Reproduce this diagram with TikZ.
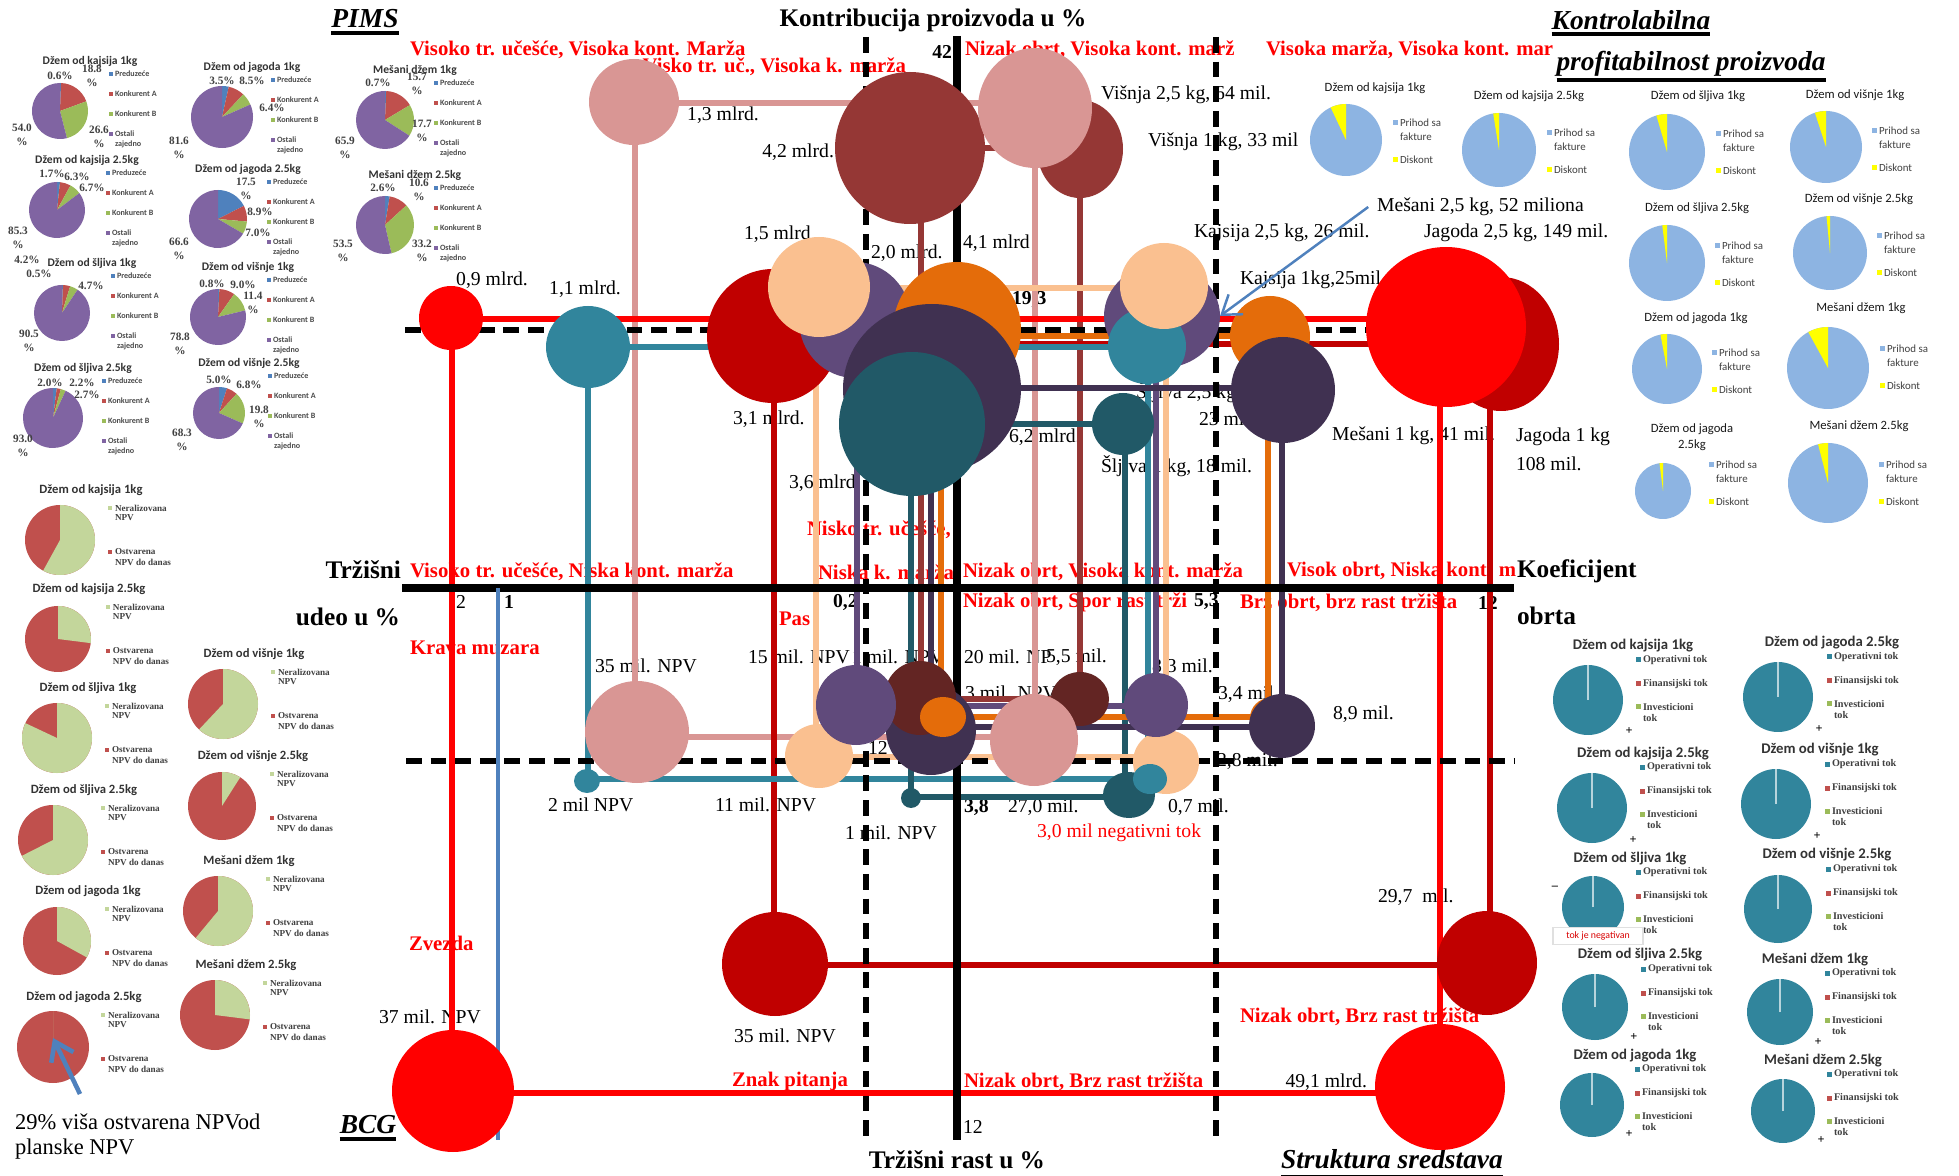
\documentclass[tikz,border=0pt]{standalone}
\usepackage{fontspec}
\setmainfont{Liberation Serif}
\newfontfamily\calfont{Carlito}
\usetikzlibrary{arrows.meta,calc}

% bubble colours
\definecolor{cRed}{HTML}{FF0000}
\definecolor{cDRed}{HTML}{C00000}
\definecolor{cPink}{HTML}{D99694}
\definecolor{cBrown}{HTML}{953735}
\definecolor{cDBrown}{HTML}{632523}
\definecolor{cOrange}{HTML}{E46C0A}
\definecolor{cPeach}{HTML}{FAC090}
\definecolor{cPurple}{HTML}{604A7B}
\definecolor{cDPurple}{HTML}{403151}
\definecolor{cTeal}{HTML}{31859C}
\definecolor{cDTeal}{HTML}{215967}
\definecolor{cBlue}{HTML}{4F81BD}
% small chart colours
\definecolor{pBlue}{HTML}{4F81BD}
\definecolor{pRed}{HTML}{C0504D}
\definecolor{pGreen}{HTML}{9BBB59}
\definecolor{pPurple}{HTML}{8064A2}
\definecolor{nGreen}{HTML}{C3D69B}
\definecolor{kBlue}{HTML}{8DB4E2}
\definecolor{kYellow}{HTML}{FFFF00}

% market share pie: cx, cy, r, title, firm, competitor A, competitor B, others
\newcommand\pimspie[8]{%
  \pgfmathsetmacro\pa{-90+3.6*#5}%
  \pgfmathsetmacro\pb{\pa+3.6*#6}%
  \pgfmathsetmacro\pc{\pb+3.6*#7}%
  \fill[pBlue]   (#1,#2) -- ++(-90:#3) arc[start angle=-90, end angle=\pa, radius=#3] -- cycle;
  \fill[pRed]    (#1,#2) -- ++(\pa:#3) arc[start angle=\pa, end angle=\pb, radius=#3] -- cycle;
  \fill[pGreen]  (#1,#2) -- ++(\pb:#3) arc[start angle=\pb, end angle=\pc, radius=#3] -- cycle;
  \fill[pPurple] (#1,#2) -- ++(\pc:#3) arc[start angle=\pc, end angle=270, radius=#3] -- cycle;
  \node[ptitle] at (#1+30,#2-50) {#4};
  \fill[pBlue]   (#1+49,#2-39) rectangle (#1+53,#2-35);
  \fill[pRed]    (#1+49,#2-19) rectangle (#1+53,#2-15);
  \fill[pGreen]  (#1+49,#2+1)  rectangle (#1+53,#2+5);
  \fill[pPurple] (#1+49,#2+21) rectangle (#1+53,#2+25);
  \node[pleg] at (#1+55,#2-37) {Preduzeće};
  \node[pleg] at (#1+55,#2-17) {Konkurent A};
  \node[pleg] at (#1+55,#2+3)  {Konkurent B};
  \node[pleg] at (#1+55,#2+23) {Ostali};
  \node[pleg] at (#1+55,#2+33) {zajedno};
}
% NPV pie: cx, cy, r, title, share not yet realised
\newcommand\npvpie[5]{%
  \pgfmathsetmacro\pg{-90+360*#5}%
  \fill[pRed] (#1,#2) circle[radius=#3];
  \fill[nGreen] (#1,#2) -- ++(-90:#3) arc[start angle=-90, end angle=\pg, radius=#3] -- cycle;
  \node[ntitle] at (#1+31,#2-50) {#4};
  \fill[nGreen] (#1+48,#2-34) rectangle (#1+52,#2-30);
  \node[nleg] at (#1+55,#2-32) {Neralizovana};
  \node[nleg] at (#1+55,#2-22) {NPV};
  \fill[pRed] (#1+48,#2+10) rectangle (#1+52,#2+14);
  \node[nleg] at (#1+55,#2+12) {Ostvarena};
  \node[nleg] at (#1+55,#2+22) {NPV do danas};
}
% invoice / discount pie: cx, cy, r, title x, title y, title, discount share, legend x, legend y
\newcommand\kpie[9]{%
  \pgfmathsetmacro\py{-90-360*#7}%
  \fill[kBlue] (#1,#2) circle[radius=#3];
  \fill[kYellow] (#1,#2) -- ++(-90:#3) arc[start angle=-90, end angle=\py, radius=#3] -- cycle;
  \node[ktitle, align=center] at (#4,#5) {#6};
  \fill[kBlue] (#8-2.5,#9-2.5) rectangle (#8+2.5,#9+2.5);
  \node[kleg] at (#8+5,#9) {Prihod sa};
  \node[kleg] at (#8+5,#9+14) {fakture};
  \fill[kYellow] (#8-2.5,#9+34.5) rectangle (#8+2.5,#9+39.5);
  \node[kleg] at (#8+5,#9+37) {Diskont};
}
% cash flow pie: cx, cy, r, title x, title y, title, legend x, legend y
\newcommand\cpie[8]{%
  \fill[cTeal] (#1,#2) circle[radius=#3];
  \draw[white!65!cTeal, line width=0.3pt] (#1,#2) -- (#1,#2-#3);
  \node[ctitle] at (#4,#5) {#6};
  \fill[cTeal] (#7-2.5,#8-2.5) rectangle (#7+2.5,#8+2.5);
  \node[cleg] at (#7+5,#8) {Operativni tok};
  \fill[pRed] (#7-2.5,#8+21.5) rectangle (#7+2.5,#8+26.5);
  \node[cleg] at (#7+5,#8+24) {Finansijski tok};
  \fill[pGreen] (#7-2.5,#8+44.5) rectangle (#7+2.5,#8+49.5);
  \node[cleg] at (#7+5,#8+47) {Investicioni};
  \node[cleg] at (#7+5,#8+58) {tok};
}
% bubble: colour, cx, cy, x radius, y radius
\newcommand\bub[5]{\fill[#1] (#2,#3) ellipse[x radius=#4, y radius=#5];}

\begin{document}
\begin{tikzpicture}[x=0.01cm, y=-0.01cm,
  every node/.style={inner sep=0pt, outer sep=0pt},
  lbl/.style={font=\fontsize{5.6}{6.6}\selectfont},
  qlbl/.style={text=red, font=\bfseries\fontsize{5.9}{7}\selectfont, anchor=west},
  bttl/.style={font=\bfseries\fontsize{7.2}{8.5}\selectfont},
  ittl/.style={font=\bfseries\itshape\fontsize{7.8}{9}\selectfont},
  uline/.style={line width=1.1pt},
  ptitle/.style={font=\calfont\bfseries\fontsize{3.3}{4}\selectfont, text=black!80},
  pleg/.style={font=\calfont\bfseries\fontsize{2.3}{2.8}\selectfont, anchor=west, text=black!70},
  pct/.style={font=\bfseries\fontsize{3.2}{3.9}\selectfont, align=center, text=black!75},
  ntitle/.style={font=\calfont\bfseries\fontsize{3.6}{4.3}\selectfont, text=black!80},
  nleg/.style={font=\bfseries\fontsize{2.6}{3}\selectfont, anchor=west, text=black!75},
  ktitle/.style={font=\calfont\fontsize{3.6}{4.4}\selectfont, text=black!90},
  kleg/.style={font=\calfont\fontsize{3.1}{3.7}\selectfont, anchor=west, text=black!75},
  ctitle/.style={font=\calfont\bfseries\fontsize{4.2}{5}\selectfont, text=black!80},
  cleg/.style={font=\bfseries\fontsize{2.9}{3.4}\selectfont, anchor=west, text=black!75},
  conn/.style={line width=1.45pt},
  axisln/.style={line width=2.4pt},
  dashln/.style={line width=1.5pt, dash pattern=on 4.5pt off 2.5pt},
  barrow/.style={draw=cBlue, line width=0.7pt, -{Straight Barb[length=5pt,width=7pt]}}
]
\fill[white] (0,0) rectangle (1959,1176);
\useasboundingbox (0,0) rectangle (1959,1176);

% ---------------- PIMS market share pies ----------------
\pimspie{60}{111}{28}{Džem od kajsija 1kg}{0.6}{18.8}{26.6}{54.0}
\pimspie{222}{117}{31}{Džem od jagoda 1kg}{3.5}{8.5}{6.4}{81.6}
\pimspie{57}{210}{28}{Džem od kajsija 2.5kg}{1.7}{6.3}{6.7}{85.3}
\pimspie{218}{219}{29}{Džem od jagoda 2.5kg}{17.5}{8.9}{7.0}{66.6}
\pimspie{62}{313}{28}{Džem od šljiva 1kg}{0.5}{4.2}{4.7}{90.5}
\pimspie{218}{317}{28}{Džem od višnje 1kg}{0.8}{9.0}{11.4}{78.8}
\pimspie{53}{418}{30}{Džem od šljiva 2.5kg}{2.0}{2.2}{2.7}{93.0}
\pimspie{219}{413}{26}{Džem od višnje 2.5kg}{5.0}{6.8}{19.8}{68.3}
\pimspie{385}{120}{29}{Mešani džem 1kg}{0.7}{15.7}{17.7}{65.9}
\pimspie{385}{225}{29}{Mešani džem 2.5kg}{2.6}{10.6}{33.2}{53.5}

\node[pct] at (60,76) {0.6\%};   \node[pct] at (92,76) {18.8\\\%};
\node[pct] at (99,137) {26.6\\\%}; \node[pct] at (22,135) {54.0\\\%};
\node[pct] at (222,81) {3.5\%};  \node[pct] at (252,81) {8.5\%};
\node[pct] at (272,108) {6.4\%}; \node[pct] at (179,148) {81.6\\\%};
\node[pct] at (52,174) {1.7\%};  \node[pct] at (77,177) {6.3\%};
\node[pct] at (92,188) {6.7\%};  \node[pct] at (18,238) {85.3\\\%};
\node[pct] at (246,189) {17.5\\\%}; \node[pct] at (260,212) {8.9\%};
\node[pct] at (258,233) {7.0\%}; \node[pct] at (179,249) {66.6\\\%};
\node[pct] at (27,260) {4.2\%};  \node[pct] at (39,274) {0.5\%};
\node[pct] at (91,286) {4.7\%};  \node[pct] at (29,341) {90.5\\\%};
\node[pct] at (212,284) {0.8\%}; \node[pct] at (243,285) {9.0\%};
\node[pct] at (253,303) {11.4\\\%}; \node[pct] at (180,344) {78.8\\\%};
\node[pct] at (50,383) {2.0\%};  \node[pct] at (82,383) {2.2\%};
\node[pct] at (87,395) {2.7\%};  \node[pct] at (23,446) {93.0\\\%};
\node[pct] at (219,380) {5.0\%}; \node[pct] at (249,385) {6.8\%};
\node[pct] at (259,417) {19.8\\\%}; \node[pct] at (182,440) {68.3\\\%};
\node[pct] at (378,83) {0.7\%};  \node[pct] at (417,84) {15.7\\\%};
\node[pct] at (422,131) {17.7\\\%}; \node[pct] at (345,148) {65.9\\\%};
\node[pct] at (383,188) {2.6\%}; \node[pct] at (419,190) {10.6\\\%};
\node[pct] at (422,251) {33.2\\\%}; \node[pct] at (343,251) {53.5\\\%};

% ---------------- NPV pies ----------------
\npvpie{60}{540}{35}{Džem od kajsija 1kg}{0.58}
\npvpie{58}{639}{33}{Džem od kajsija 2.5kg}{0.27}
\npvpie{57}{738}{35}{Džem od šljiva 1kg}{0.82}
\npvpie{53}{840}{35}{Džem od šljiva 2.5kg}{0.675}
\npvpie{57}{941}{34}{Džem od jagoda 1kg}{0.33}
\npvpie{53}{1047}{36}{Džem od jagoda 2.5kg}{0.0005}
\npvpie{223}{704}{35}{Džem od višnje 1kg}{0.62}
\npvpie{222}{806}{34}{Džem od višnje 2.5kg}{0.09}
\npvpie{218}{911}{35}{Mešani džem 1kg}{0.61}
\npvpie{215}{1015}{35}{Mešani džem 2.5kg}{0.27}
\node[font=\fontsize{6.4}{8}\selectfont, anchor=west] (npvnote) at (15,1122) {29\% viša ostvarena NPVod};
\node[font=\fontsize{6.4}{8}\selectfont, anchor=west] (npvnote2) at (15,1149) {planske NPV};
\coordinate (npvTail) at (80,1094);
\coordinate (npvTip) at (53,1038);
\draw[barrow, line width=1.3pt] (npvTail) -- (npvTip);

% ---------------- invoice / discount pies ----------------
\kpie{1346}{140}{36}{1375}{88}{Džem od kajsija 1kg}{0.07}{1395}{123}
\kpie{1499}{150}{37}{1529}{96}{Džem od kajsija 2.5kg}{0.025}{1549}{133}
\kpie{1667}{152}{38}{1698}{96}{Džem od šljiva 1kg}{0.045}{1718}{134}
\kpie{1826}{147}{36}{1855}{95}{Džem od višnje 1kg}{0.05}{1874}{131}
\kpie{1667}{263}{38}{1697}{208}{Džem od šljiva 2.5kg}{0.02}{1717}{246}
\kpie{1830}{253}{37}{1859}{199}{Džem od višnje 2.5kg}{0.015}{1879}{236}
\kpie{1667}{369}{35}{1696}{318}{Džem od jagoda 1kg}{0.03}{1714}{353}
\kpie{1828}{368}{41}{1861}{308}{Mešani džem 1kg}{0.08}{1882}{349}
\kpie{1663}{491}{28}{1692}{437}{Džem od jagoda\\2.5kg}{0.02}{1711}{465}
\kpie{1828}{483}{40}{1859}{426}{Mešani džem 2.5kg}{0.04}{1881}{465}

% ---------------- cash flow pies ----------------
\cpie{1588}{700}{35}{1633}{646}{Džem od kajsija 1kg}{1638}{660}
\cpie{1778}{697}{35}{1832}{643}{Džem od jagoda 2.5kg}{1829}{657}
\cpie{1592}{808}{35}{1643}{754}{Džem od kajsija 2.5kg}{1642}{767}
\cpie{1776}{804}{35}{1820}{750}{Džem od višnje 1kg}{1827}{764}
\cpie{1593}{907}{31}{1630}{859}{Džem od šljiva 1kg}{1638}{872}
\cpie{1778}{909}{34}{1827}{855}{Džem od višnje 2.5kg}{1828}{869}
\cpie{1595}{1007}{33}{1640}{955}{Džem od šljiva 2.5kg}{1643}{969}
\cpie{1780}{1012}{33}{1815}{960}{Mešani džem 1kg}{1827}{973}
\cpie{1592}{1105}{32}{1635}{1056}{Džem od jagoda 1kg}{1637}{1069}
\cpie{1783}{1111}{32}{1823}{1061}{Mešani džem 2.5kg}{1829}{1074}
\foreach \px/\py in {1629/731,1819/729,1633/840,1817/836,1634/1037,1818/1042,1629/1134,1821/1140}
  \node[font=\bfseries\fontsize{3.5}{4}\selectfont] at (\px,\py) {+};
\node[font=\bfseries\fontsize{3.5}{4}\selectfont] at (1555,888) {–};
\node[draw=black!12, fill=white, minimum width=90*0.2845pt, minimum height=17*0.2845pt,
      text=red!85!black, font=\calfont\fontsize{2.8}{3.3}\selectfont] (negbox) at (1598,936) {tok je negativan};

% ---------------- titles ----------------
\node[ittl] (pims) at (365,19) {PIMS};
\draw[uline] ([yshift=-1.4pt]pims.base west) -- ([yshift=-1.4pt]pims.base east);
\node[ittl] (kontr) at (1631,20) {Kontrolabilna};
\draw[uline] ([yshift=-1.4pt]kontr.base west) -- ([yshift=-1.4pt]kontr.base east);
\node[ittl] (profit) at (1691,64) {profitabilnost proizvoda};
\draw[uline] ([yshift=-2.6pt]profit.base west) -- ([yshift=-2.6pt]profit.base east);
\node[ittl] (bcg) at (368,1125) {BCG};
\draw[uline] ([yshift=-1.4pt]bcg.base west) -- ([yshift=-1.4pt]bcg.base east);
\node[ittl] (strukt) at (1392,1159) {Struktura sredstava};
\draw[uline] ([yshift=-2.4pt]strukt.base west) -- ([yshift=-2.4pt]strukt.base east);
\node[bttl] (kontrib) at (933,20) {Kontribucija proizvoda u \%};
\node[bttl, anchor=east] (trz) at (401,570) {Tržišni};
\node[bttl, anchor=east] (udeo) at (400,617) {udeo u \%};
\node[bttl, anchor=west] (koef) at (1517,571) {Koeficijent};
\node[bttl, anchor=west] (obrta) at (1517,616) {obrta};
\node[bttl] (rast) at (957,1160) {Tržišni rast u \%};

% ---------------- quadrant labels ----------------
\node[qlbl] (q1) at (410,50) {Visoko tr. učešće, Visoka kont. Marža};
\node[qlbl, anchor=east] (q2) at (906,67) {Visko tr. uč., Visoka k. marža};
\node[qlbl] (q3) at (965,50) {Nizak obrt, Visoka kont. marž};
\node[qlbl] (q4) at (1266,50) {Visoka marža, Visoka kont. mar};
\node[qlbl] (q5) at (410,572) {Visoko tr. učešće, Niska kont. marža};
\node[qlbl] (q6) at (807,530) {Nisko tr. učešće,};
\node[qlbl] (q7) at (818,572) {Niska k. marža};
\node[qlbl] (q8) at (963,572) {Nizak obrt, Visoka kont. marža};
\node[qlbl] (q9) at (1287,571) {Visok obrt, Niska kont. m};
\node[qlbl] (q10) at (963,602) {Nizak obrt, Spor rast trži};
\node[qlbl] (q11) at (1240,603) {Brz obrt, brz rast tržišta};
\node[qlbl] (q12) at (410,648) {Krava muzara};
\node[qlbl] (q13) at (779,619) {Pas};
\node[qlbl] (q14) at (409,943) {Zvezda};
\node[qlbl] (q15) at (732,1082) {Znak pitanja};
\node[qlbl] (q16) at (964,1082) {Nizak obrt, Brz rast tržišta};
\node[qlbl] (q17) at (1240,1017) {Nizak obrt, Brz rast tržišta};
\node[lbl, text=red, anchor=west] (negtok) at (1037,833) {3,0 mil negativni tok};

% ---------------- axis tick values ----------------
\node[lbl, font=\bfseries\fontsize{5.6}{6.6}\selectfont, anchor=east] (t42) at (952,52) {42};
\node[lbl, font=\bfseries\fontsize{5.6}{6.6}\selectfont, anchor=west] (t193) at (1012,300) {19,3};
\node[lbl, font=\bfseries\fontsize{5.6}{6.6}\selectfont, anchor=west] (t02) at (833,602) {0,2};
\node[lbl, font=\bfseries\fontsize{5.6}{6.6}\selectfont, anchor=west] (t53) at (1194,602) {5,3};
\node[lbl, font=\bfseries\fontsize{5.6}{6.6}\selectfont, anchor=west] (t12r) at (1478,603) {12};
\node[lbl, font=\bfseries\fontsize{5.6}{6.6}\selectfont, anchor=west] (t38) at (964,807) {3,8};
\node[lbl, anchor=west] (t2) at (456,602) {2};
\node[lbl, font=\bfseries\fontsize{5.6}{6.6}\selectfont, anchor=west] (t1) at (504,602) {1};
\node[lbl, anchor=west] (t12b) at (963,1127) {12};

% ---------------- value labels ----------------
\node[lbl] (v1) at (492,280) {0,9 mlrd.};
\node[lbl] (v2) at (585,289) {1,1 mlrd.};
\node[lbl] (v3) at (723,115) {1,3 mlrd.};
\node[lbl, anchor=east] (v4) at (834,152) {4,2 mlrd.};
\node[lbl, anchor=west] (v5) at (744,234) {1,5 mlrd};
\node[lbl, anchor=west] (v6) at (871,253) {2,0 mlrd.};
\node[lbl, anchor=west] (v7) at (963,243) {4,1 mlrd};
\node[lbl, anchor=west] (v8) at (733,419) {3,1 mlrd.};
\node[lbl, anchor=west] (v9) at (1009,437) {6,2 mlrd.};
\node[lbl, anchor=west] (v10) at (789,483) {3,6 mlrd.};
\node[lbl, anchor=west] (v11) at (1101,95) {Višnja 2,5 kg, 64 mil.};
\node[lbl, anchor=west] (v12) at (1148,142) {Višnja 1 kg, 33 mil};
\node[lbl, anchor=west] (mes25) at (1377,207) {Mešani 2,5 kg, 52 miliona};
\node[lbl, anchor=west] (v14) at (1194,233) {Kajsija 2,5 kg, 26 mil.};
\node[lbl, anchor=west] (v15) at (1424,233) {Jagoda 2,5 kg, 149 mil.};
\node[lbl, anchor=west] (v16) at (1240,280) {Kajsija 1kg,25mil};
\node[lbl, anchor=west] (v17) at (1136,392) {Šljiva 2,5 kg,};
\node[lbl, anchor=west] (v18) at (1199,419) {23 mil.};
\node[lbl, anchor=west] (v19) at (1101,466) {Šljiva 1 kg, 18 mil.};
\node[lbl, anchor=west] (v20) at (1332,436) {Mešani 1 kg, 41 mil.};
\node[lbl, anchor=west] (v21) at (1516,437) {Jagoda 1 kg};
\node[lbl, anchor=west] (v22) at (1516,464) {108 mil.};
\node[lbl, anchor=west] (v23) at (595,666) {35 mil. NPV};
\node[lbl, anchor=west] (v24) at (748,657) {15 mil. NPV};
\node[lbl, anchor=west] (v25) at (852,657) {1 mil. NPV};
\node[lbl, anchor=west] (v26) at (964,657) {20 mil. NP};
\node[lbl, anchor=west] (v27) at (1046,657) {5,5 mil.};
\node[lbl, anchor=west] (v28) at (965,693) {3 mil. NPV};
\node[lbl, anchor=west] (v29) at (1152,667) {8,3 mil.};
\node[lbl, anchor=west] (v30) at (1218,694) {3,4 mil.};
\node[lbl, anchor=west] (v31) at (1333,714) {8,9 mil.};
\node[lbl, anchor=west] (v32) at (1217,761) {2,8 mil.};
\node[lbl, anchor=west] (v33) at (868,748) {12};
\node[lbl, anchor=west] (v34) at (548,805) {2 mil NPV};
\node[lbl, anchor=west] (v35) at (715,805) {11 mil. NPV};
\node[lbl, anchor=west] (v36) at (845,833) {1 mil. NPV};
\node[lbl, anchor=west] (v37) at (1008,807) {27,0 mil.};
\node[lbl, anchor=west] (v38) at (1168,807) {0,7 mil.};
\node[lbl] (v39) at (430,1017) {37 mil. NPV};
\node[lbl] (v40) at (785,1036) {35 mil. NPV};
\node[lbl, anchor=west] (v41) at (1378,897) {29,7 \ mil.};
\node[lbl, anchor=east] (v42) at (1367,1082) {49,1 mlrd.};

% ---------------- product connectors (rectangles linking the four positions) ----------------
\coordinate (pk1) at (635,103);  \coordinate (pk2) at (1035,103);  \coordinate (pk3) at (1035,737);  \coordinate (pk4) at (635,737);
\coordinate (br1) at (921,148);  \coordinate (br2) at (1080,148);  \coordinate (br3) at (1080,699);  \coordinate (br4) at (921,699);
\coordinate (rd1) at (452,319);  \coordinate (rd2) at (1440,319);  \coordinate (rd3) at (1440,1093); \coordinate (rd4) at (452,1093);
\coordinate (dr1) at (774,344);  \coordinate (dr2) at (1490,344);  \coordinate (dr3) at (1490,965);  \coordinate (dr4) at (774,965);
\coordinate (te1) at (588,347);  \coordinate (te2) at (1148,347);  \coordinate (te3) at (1148,779);  \coordinate (te4) at (588,779);
\coordinate (dt1) at (911,424);  \coordinate (dt2) at (1125,424);  \coordinate (dt3) at (1125,797);  \coordinate (dt4) at (911,797);
\coordinate (pu1) at (857,320);  \coordinate (pu2) at (1156,320);  \coordinate (pu3) at (1156,706);  \coordinate (pu4) at (857,706);
\coordinate (pe1) at (816,288);  \coordinate (pe2) at (1166,288);  \coordinate (pe3) at (1166,757);  \coordinate (pe4) at (816,757);
\coordinate (or1) at (941,336);  \coordinate (or2) at (1268,336);  \coordinate (or3) at (1268,717);  \coordinate (or4) at (941,717);
\coordinate (dp1) at (931,388);  \coordinate (dp2) at (1282,388);  \coordinate (dp3) at (1282,727);  \coordinate (dp4) at (931,727);

\draw[conn, cPink]    (pk1) -- (pk2) -- (pk3) -- (pk4) -- cycle;
\draw[conn, cBrown]   (br1) -- (br2) -- (br3) -- (br4) -- cycle;
\draw[conn, cRed]     (rd1) -- (rd2) -- (rd3) -- (rd4) -- cycle;
\draw[conn, cDRed]    (dr1) -- (dr2) -- (dr3) -- (dr4) -- cycle;
\draw[conn, cTeal]    (te1) -- (te2) -- (te3) -- (te4) -- cycle;
\draw[conn, cDTeal]   (dt1) -- (dt2) -- (dt3) -- (dt4) -- cycle;
\draw[conn, cPurple]  (pu1) -- (pu4) -- (pu3) -- (pu2);
\draw[conn, cPeach]   (pe1) -- (pe2) -- (pe3) -- (pe4) -- cycle;
\draw[conn, cOrange]  (or1) -- (or2) -- (or3) -- (or4) -- cycle;
\draw[conn, cDPurple] (dp1) -- (dp2) -- (dp3) -- (dp4) -- cycle;

% ---------------- axes and quadrant borders ----------------
\coordinate (hdA) at (405,330);  \coordinate (hdB) at (1514,330);
\coordinate (ldA) at (406,761);  \coordinate (ldB) at (1514,761);
\coordinate (vdA) at (866,37);   \coordinate (vdB) at (866,1140);
\coordinate (wdA) at (1216,37);  \coordinate (wdB) at (1216,1140);
\draw[dashln] (hdA) -- (hdB);
\draw[dashln] (ldA) -- (ldB);
\draw[dashln] (vdA) -- (vdB);
\draw[dashln] (wdA) -- (wdB);
\coordinate (axL) at (402,588);  \coordinate (axR) at (1514,588);
\coordinate (axT) at (957,36);   \coordinate (axB) at (957,1140);
\draw[axisln] (axL) -- (axR);
\draw[axisln] (axT) -- (axB);
\coordinate (blT) at (498,588);  \coordinate (blB) at (498,1140);
\draw[cBlue, line width=1.1pt] (blT) -- (blB);

% ---------------- bubbles ----------------
% upper left field
\bub{cPink}{634}{102}{45}{43}
\bub{cBrown}{1080}{149}{43}{49}
\bub{cBrown}{910}{148}{75}{76}
\bub{cPink}{1035}{108}{57}{60}
\bub{cRed}{451}{318}{32}{32}
\bub{cTeal}{588}{347}{42}{41}
\bub{cDRed}{773}{336}{66}{67}
\bub{cPurple}{855}{320}{56}{58}
\bub{cPeach}{819}{287}{51}{50}
\bub{cOrange}{957}{330}{64}{68}
\bub{cDPurple}{932}{389}{89}{85}
\bub{cDTeal}{912}{424}{73}{72}
% upper right field
\bub{cPurple}{1162}{316}{58}{52}
\bub{cTeal}{1147}{346}{39}{38}
\bub{cPeach}{1164}{286}{44}{43}
\bub{cDTeal}{1123}{424}{31}{31}
\bub{cOrange}{1270}{336}{40}{40}
\bub{cDPurple}{1283}{390}{52}{53}
\bub{cDRed}{1501}{344}{58}{67}
\bub{cRed}{1446}{327}{80}{80}
% lower left field
\bub{cPink}{637}{732}{52}{51}
\bub{cTeal}{587}{781}{13}{12}
\bub{cPeach}{819}{756}{34}{32}
\bub{cDPurple}{931}{730}{45}{45}
\bub{cDBrown}{920}{698}{36}{37}
\bub{cPurple}{856}{705}{40}{40}
\bub{cOrange}{943}{717}{23}{20}
\bub{cDTeal}{911}{798}{10}{10}
% lower right field
\bub{cDTeal}{1129}{795}{26}{23}
\bub{cPeach}{1166}{762}{33}{32}
\bub{cDBrown}{1080}{699}{29}{27}
\bub{cPink}{1034}{740}{44}{46}
\bub{cPurple}{1156}{705}{32}{32}
\bub{cTeal}{1150}{779}{17}{15}
\bub{cOrange}{1270}{718}{20}{20}
\bub{cDPurple}{1282}{726}{33}{32}
% BCG field
\bub{cDRed}{775}{964}{53}{52}
\bub{cDRed}{1487}{963}{50}{52}
\bub{cRed}{453}{1091}{61}{61}
\bub{cRed}{1440}{1087}{65}{63}

% pointer to the mixed jam bubble
\coordinate (mesTip) at (1220,316);
\draw[barrow] ([xshift=-2.5pt]mes25.west) -- (mesTip);

\end{tikzpicture}
\end{document}
